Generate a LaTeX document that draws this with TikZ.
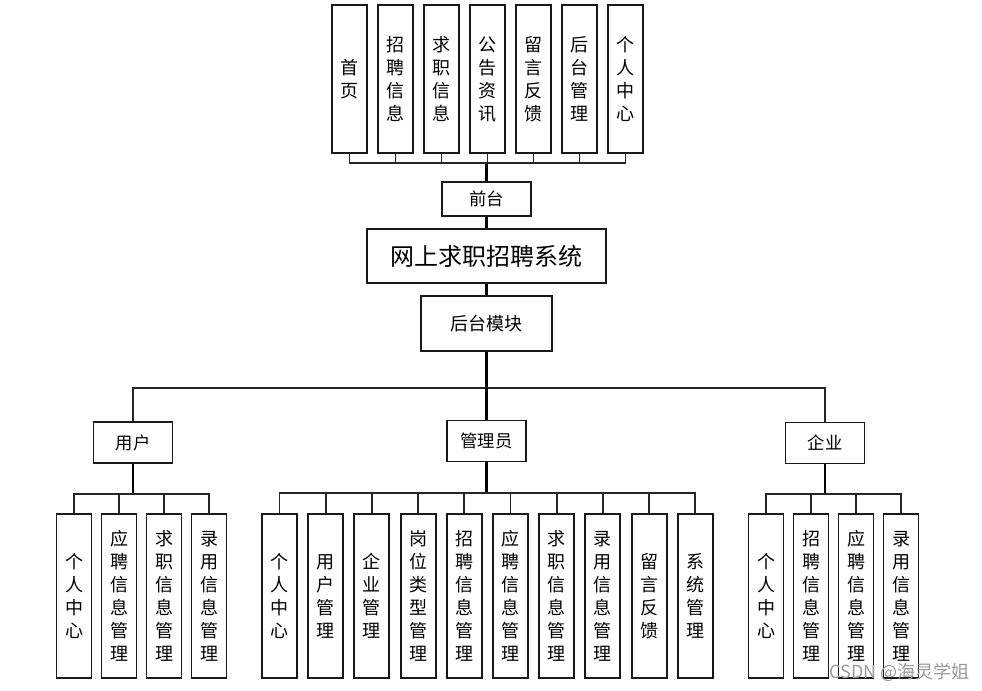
\documentclass[tikz,border=0pt]{standalone}
\usepackage{fontspec}
\setmainfont{Noto Sans CJK SC}
\usepackage{xcolor}

\begin{document}
\begin{tikzpicture}[x=0.75pt,y=-0.75pt,
    box/.style={draw=black!90,line width=1.4pt,fill=white,inner sep=0pt,align=center},
    tallbox/.style={box,minimum width=26.25pt,minimum height=111pt,font=\fontsize{13.5}{17.25}\selectfont},
    leafbox/.style={box,minimum width=26.25pt,minimum height=123pt,font=\fontsize{13.5}{17.25}\selectfont},
    rolebox/.style={box,minimum width=59.25pt,minimum height=30.75pt,font=\fontsize{13}{15}\selectfont},
    link/.style={line width=1.4pt,draw=black!85},
    trunk/.style={line width=1.8pt,draw=black}]

      \useasboundingbox (0,0) rectangle (982,690);

      % front end pages
      \node[tallbox] (f1) at (349.5,79) {首\\页};
      \node[tallbox] (f2) at (395.5,79) {招\\聘\\信\\息};
      \node[tallbox] (f3) at (441.5,79) {求\\职\\信\\息};
      \node[tallbox] (f4) at (487.5,79) {公\\告\\资\\讯};
      \node[tallbox] (f5) at (533.5,79) {留\\言\\反\\馈};
      \node[tallbox] (f6) at (579.5,79) {后\\台\\管\\理};
      \node[tallbox] (f7) at (625.5,79) {个\\人\\中\\心};

      \node[box,minimum width=66.75pt,minimum height=25.5pt,font=\fontsize{13}{15}\selectfont] (front) at (486.5,199) {前台};
      \node[box,minimum width=179.25pt,minimum height=40.5pt,font=\fontsize{18}{20}\selectfont] (sys) at (486.5,256) {网上求职招聘系统};
      \node[box,minimum width=98.25pt,minimum height=41.25pt,font=\fontsize{13.5}{15}\selectfont] (back) at (486.5,323.5) {后台模块};

      \coordinate (ftop) at (486.5,163);
      \draw[trunk] (front.north) -- (ftop);
      \draw[link] (f1.south) |- (ftop);
      \draw[link] (f2.south) |- (ftop);
      \draw[link] (f3.south) |- (ftop);
      \draw[link] (f4.south) |- (ftop);
      \draw[link] (f5.south) |- (ftop);
      \draw[link] (f6.south) |- (ftop);
      \draw[link] (f7.south) |- (ftop);
      \draw[trunk] (front.south) -- (sys.north);
      \draw[trunk] (sys.south) -- (back.north);

      % roles
      \node[rolebox] (user) at (133,442.5) {用户};
      \node[rolebox] (admin) at (486.5,441) {管理员};
      \node[rolebox] (corp) at (825,443) {企业};

      \coordinate (bbus) at (486.5,388);
      \draw[trunk] (back.south) -- (bbus);
      \draw[link] (user.north) |- (bbus);
      \draw[link] (corp.north) |- (bbus);
      \draw[trunk] (bbus) -- (admin.north);

      % user modules
      \node[leafbox] (u1) at (74,596) {个\\人\\中\\心};
      \node[leafbox] (u2) at (119,596) {应\\聘\\信\\息\\管\\理};
      \node[leafbox] (u3) at (164,596) {求\\职\\信\\息\\管\\理};
      \node[leafbox] (u4) at (209,596) {录\\用\\信\\息\\管\\理};

      \coordinate (ubus) at (133,494);
      \draw[trunk] (user.south) -- (ubus);
      \draw[link] (u1.north) |- (ubus);
      \draw[link] (u2.north) |- (ubus);
      \draw[link] (u3.north) |- (ubus);
      \draw[link] (u4.north) |- (ubus);

      % admin modules
      \node[leafbox] (a1) at (279.5,596) {个\\人\\中\\心};
      \node[leafbox] (a2) at (325.7,596) {用\\户\\管\\理};
      \node[leafbox] (a3) at (371.9,596) {企\\业\\管\\理};
      \node[leafbox] (a4) at (418.1,596) {岗\\位\\类\\型\\管\\理};
      \node[leafbox] (a5) at (464.3,596) {招\\聘\\信\\息\\管\\理};
      \node[leafbox] (a6) at (510.5,596) {应\\聘\\信\\息\\管\\理};
      \node[leafbox] (a7) at (556.7,596) {求\\职\\信\\息\\管\\理};
      \node[leafbox] (a8) at (602.9,596) {录\\用\\信\\息\\管\\理};
      \node[leafbox] (a9) at (649.1,596) {留\\言\\反\\馈};
      \node[leafbox] (a10) at (695.3,596) {系\\统\\管\\理};

      \coordinate (abus) at (486.5,493);
      \draw[trunk] (admin.south) -- (abus);
      \draw[link] (a1.north) |- (abus);
      \draw[link] (a2.north) |- (abus);
      \draw[link] (a3.north) |- (abus);
      \draw[link] (a4.north) |- (abus);
      \draw[link] (a5.north) |- (abus);
      \draw[link] (a6.north) |- (abus);
      \draw[link] (a7.north) |- (abus);
      \draw[link] (a8.north) |- (abus);
      \draw[link] (a9.north) |- (abus);
      \draw[link] (a10.north) |- (abus);

      % company modules
      \node[leafbox] (c1) at (766,596) {个\\人\\中\\心};
      \node[leafbox] (c2) at (811,596) {招\\聘\\信\\息\\管\\理};
      \node[leafbox] (c3) at (856,596) {应\\聘\\信\\息\\管\\理};
      \node[leafbox] (c4) at (901,596) {录\\用\\信\\息\\管\\理};

      \coordinate (cbus) at (825,494);
      \draw[trunk] (corp.south) -- (cbus);
      \draw[link] (c1.north) |- (cbus);
      \draw[link] (c2.north) |- (cbus);
      \draw[link] (c3.north) |- (cbus);
      \draw[link] (c4.north) |- (cbus);

      \node[text=black!40,font=\fontsize{13.5}{15}\selectfont,anchor=west,inner sep=0pt] (mark) at (829,672) {CSDN @海灵学姐};

    \end{tikzpicture}
\end{document}
